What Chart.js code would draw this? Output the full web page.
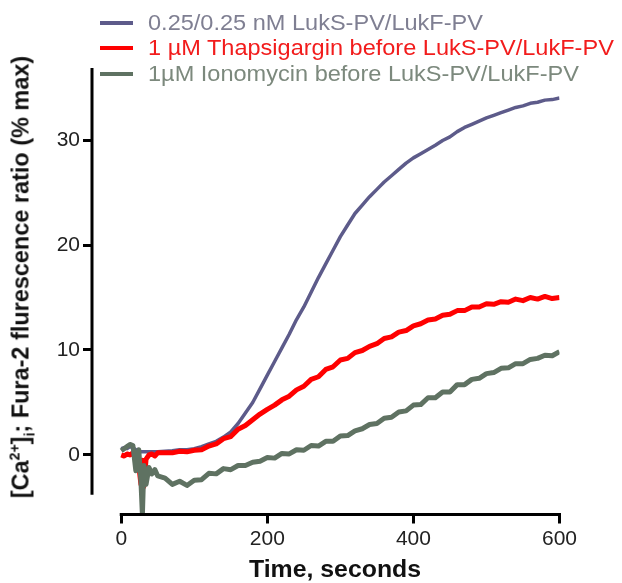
<!DOCTYPE html>
<html>
<head>
<meta charset="utf-8">
<script src="https://cdn.jsdelivr.net/npm/chart.js@4.4.0/dist/chart.umd.min.js"></script>
<style>
  html, body { margin: 0; padding: 0; background: #fff; }
  #wrap { position: relative; width: 622px; height: 583px; overflow: hidden;
          font-family: "Liberation Sans", Arial, sans-serif; }
  #chart { position: absolute; left: 0; top: 0; }
  #legend { position: absolute; left: 100px; top: 10px; }
  .legend-row { height: 25.5px; display: flex; align-items: center; white-space: nowrap; font-size: 22px; }
  .legend-row .swatch { width: 33px; height: 4px; margin-right: 15px; flex: none; }
  .legend-row .txt { display: inline-block; transform: scaleX(1.07); transform-origin: left center; }
  #ytitle { position: absolute; left: 21px; top: 277px; transform: translate(-50%, -50%) rotate(-90deg) scaleX(1.02);
            white-space: nowrap; font-weight: bold; font-size: 23px; color: #111; }
  #ytitle sup, #ytitle sub { font-size: 60%; line-height: 0; }
  #xtitle { position: absolute; left: 335px; top: 569px; transform: translate(-50%, -50%) scaleX(1.08);
            white-space: nowrap; font-weight: bold; font-size: 23px; color: #111; }
</style>
</head>
<body>
<div id="wrap">
  <canvas id="chart" width="622" height="583"></canvas>
  <div id="legend"></div>
  <div id="ytitle">[Ca<sup>2+</sup>]<sub>i</sub>; Fura-2 flurescence ratio (% max)</div>
  <div id="xtitle">Time, seconds</div>
</div>
<script>
// time points (seconds), finer at the start where the additions happen
const times = [0, 4, 8, 12, 16, 20, 24, 27, 29, 31, 34, 38, 42, 46, 50,
  60, 70, 80, 90, 100, 110, 120, 130, 140, 150, 160, 170, 180, 190, 200,
  210, 220, 230, 240, 250, 260, 270, 280, 290, 300, 310, 320, 330, 340, 350,
  360, 370, 380, 390, 400, 410, 420, 430, 440, 450, 460, 470, 480, 490, 500,
  510, 520, 530, 540, 550, 560, 570, 580, 590, 600];

const lukValues = [0.6, 0.7, 0.6, 0.8, 0.7, 0.5, 0.4, 0.3, 0.3, 0.3, 0.3, 0.3, 0.3, 0.3, 0.3,
  0.35, 0.4, 0.5, 0.5, 0.6, 0.8, 1.05, 1.3, 1.7, 2.2, 3.0, 4.0, 5.0, 6.3, 7.6,
  8.9, 10.2, 11.5, 12.9, 14.1, 15.5, 16.9, 18.2, 19.5, 20.8, 21.9, 23.0, 23.8, 24.6, 25.3,
  26.0, 26.6, 27.2, 27.8, 28.3, 28.7, 29.1, 29.5, 29.95, 30.3, 30.8, 31.2, 31.5, 31.8, 32.1,
  32.35, 32.6, 32.85, 33.1, 33.25, 33.5, 33.6, 33.8, 33.85, 34.0];

const thapsValues = [0.0, -0.1, 0.1, 0.0, 0.2, -0.2, -1.0, -2.8, -0.5, -3.0, -0.4, 0.0, 0.1, -0.1, 0.2,
  0.2, 0.2, 0.35, 0.3, 0.45, 0.5, 0.85, 1.05, 1.55, 1.75, 2.45, 2.8, 3.35, 3.9, 4.35,
  4.75, 5.25, 5.6, 6.2, 6.55, 7.2, 7.45, 8.15, 8.4, 9.05, 9.2, 9.75, 9.95, 10.35, 10.6,
  11.1, 11.25, 11.7, 11.85, 12.3, 12.5, 12.85, 12.95, 13.3, 13.4, 13.75, 13.75, 14.1, 14.1, 14.4,
  14.35, 14.6, 14.55, 14.85, 14.7, 15.0, 14.85, 15.1, 14.9, 15.0];

const ionoValues = [0.4, 0.6, 0.8, 1.0, 0.9, -1.5, 0.5, -2.5, -5.7, -1.0, -2.8, -1.2, -1.8, -1.4, -2.0,
  -2.2, -2.8, -2.5, -2.9, -2.4, -2.35, -1.75, -1.8, -1.3, -1.4, -1.0, -1.0, -0.7, -0.6, -0.25,
  -0.3, 0.15, 0.1, 0.5, 0.45, 0.9, 0.85, 1.3, 1.3, 1.8, 1.85, 2.3, 2.5, 2.9, 3.0,
  3.5, 3.6, 4.1, 4.2, 4.75, 4.8, 5.45, 5.45, 6.0, 6.0, 6.7, 6.7, 7.2, 7.3, 7.75,
  7.85, 8.25, 8.3, 8.7, 8.7, 9.1, 9.2, 9.5, 9.45, 9.85];

const seriesLabels = [
  "0.25/0.25 nM LukS-PV/LukF-PV",
  "1 \u00b5M Thapsigargin before LukS-PV/LukF-PV",
  "1\u00b5M Ionomycin before LukS-PV/LukF-PV"
];
const seriesColors = ["#5d5b8a", "#ff0000", "#5f7262"];
const legendTextColors = ["#7f7f92", "#f21c1c", "#7c897d"];

const xTicks = [0, 200, 400, 600];
const yTicks = [0, 10, 20, 30];

const seriesValues = [lukValues, thapsValues, ionoValues];
const lineWidths = [3.5, 5, 5];

// html legend
const legendEl = document.getElementById("legend");
seriesLabels.forEach((label, i) => {
  const row = document.createElement("div");
  row.className = "legend-row";
  row.style.color = legendTextColors[i];
  const sw = document.createElement("span");
  sw.className = "swatch";
  sw.style.background = seriesColors[i];
  const txt = document.createElement("span");
  txt.className = "txt";
  txt.textContent = label;
  row.appendChild(sw);
  row.appendChild(txt);
  legendEl.appendChild(row);
});

// detached Prism-style axis lines
const axisLines = {
  id: "axisLines",
  afterDraw(chart) {
    const { ctx, chartArea, scales } = chart;
    const x = scales.x, y = scales.y;
    ctx.save();
    ctx.strokeStyle = "#000";
    ctx.lineWidth = 3;
    ctx.beginPath();
    ctx.moveTo(chartArea.left, y.getPixelForValue(-3.8));
    ctx.lineTo(chartArea.left, chartArea.top);
    ctx.moveTo(x.getPixelForValue(0) - 1.5, chartArea.bottom);
    ctx.lineTo(x.getPixelForValue(600) + 1.5, chartArea.bottom);
    ctx.stroke();
    ctx.restore();
  }
};

new Chart(document.getElementById("chart"), {
  type: "line",
  data: {
    datasets: seriesValues.map((vals, i) => ({
      label: seriesLabels[i],
      data: times.map((t, k) => ({ x: t, y: vals[k] })),
      borderColor: seriesColors[i],
      borderWidth: lineWidths[i],
      borderJoinStyle: "round",
      pointRadius: 0,
      tension: 0,
      fill: false,
      order: 3 - i,
    })),
  },
  options: {
    responsive: false,
    animation: false,
    events: [],
    layout: { padding: { top: 68, right: 62.5, bottom: 0, left: 0 } },
    plugins: {
      legend: { display: false },
      tooltip: { enabled: false },
    },
    scales: {
      x: {
        type: "linear",
        min: -40,
        max: 600,
        afterBuildTicks: (s) => { s.ticks = xTicks.map((v) => ({ value: v })); },
        afterFit: (s) => { s.height = 68.5; },
        border: { display: false },
        grid: { drawOnChartArea: false, drawTicks: true, tickLength: 9, tickWidth: 3, tickColor: "#000" },
        ticks: { color: "#222", font: { family: "'Liberation Sans', Arial", size: 21 }, padding: 3, maxRotation: 0 },
      },
      y: {
        type: "linear",
        min: -5.67,
        max: 36.86,
        afterBuildTicks: (s) => { s.ticks = yTicks.map((v) => ({ value: v })); },
        afterFit: (s) => { s.width = 92; },
        border: { display: false },
        grid: { drawOnChartArea: false, drawTicks: true, tickLength: 9, tickWidth: 3, tickColor: "#000" },
        ticks: { color: "#222", font: { family: "'Liberation Sans', Arial", size: 21 }, padding: 3 },
      },
    },
  },
  plugins: [axisLines],
});
</script>
</body>
</html>
